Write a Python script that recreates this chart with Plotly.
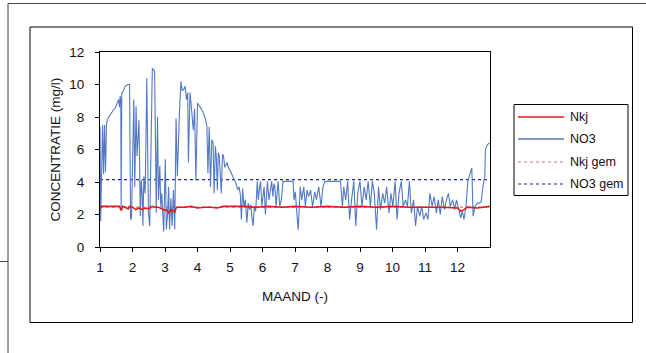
import plotly.graph_objects as go

# ---- data (x in months, values in mg/l) ----
NO3_X = [1.00, 1.02, 1.05, 1.08, 1.11, 1.14, 1.17, 1.20, 1.24, 1.30, 1.34, 1.40, 1.47, 1.52, 1.57, 1.60,
         1.62, 1.64, 1.65, 1.67, 1.72, 1.78, 1.86, 1.91, 1.94, 1.97, 2.00, 2.04, 2.07, 2.11, 2.14, 2.17,
         2.20, 2.24, 2.27, 2.30, 2.32, 2.35, 2.39, 2.44, 2.47, 2.49, 2.53, 2.57, 2.61, 2.65, 2.68, 2.71,
         2.73, 2.77, 2.80, 2.84, 2.87, 2.90, 2.96, 3.01, 3.04, 3.08, 3.11, 3.14, 3.18, 3.22, 3.26, 3.30,
         3.34, 3.38, 3.42, 3.45, 3.49, 3.53, 3.57, 3.62, 3.66, 3.70, 3.72, 3.77, 3.82, 3.87, 3.91, 3.95,
         4.00, 4.06, 4.13, 4.19, 4.25, 4.29, 4.32, 4.36, 4.40, 4.44, 4.48, 4.51, 4.55, 4.58, 4.61, 4.64,
         4.67, 4.70, 4.73, 4.77, 4.80, 4.84, 4.87, 4.91, 4.95, 4.99, 5.03, 5.08, 5.12, 5.16, 5.20, 5.24,
         5.28, 5.32, 5.35, 5.39, 5.43, 5.47, 5.52, 5.56, 5.60, 5.64, 5.67, 5.71, 5.75, 5.79, 5.84, 5.87,
         5.90, 5.94, 5.98, 6.01, 6.05, 6.09, 6.12, 6.15, 6.20, 6.24, 6.28, 6.32, 6.35, 6.38, 6.42, 6.45,
         6.48, 6.53, 6.58, 6.63, 6.78, 6.94, 6.97, 7.01, 7.04, 7.10, 7.16, 7.21, 7.27, 7.32, 7.37, 7.42,
         7.48, 7.54, 7.61, 7.66, 7.73, 7.80, 7.86, 7.92, 8.40, 8.46, 8.50, 8.56, 8.62, 8.68, 8.74, 8.81,
         8.87, 8.93, 9.00, 9.06, 9.13, 9.19, 9.25, 9.32, 9.38, 9.44, 9.51, 9.57, 9.63, 9.70, 9.76, 9.82,
         9.89, 9.95, 10.01, 10.08, 10.14, 10.20, 10.27, 10.33, 10.40, 10.46, 10.52, 10.58, 10.65, 10.71,
         10.77, 10.84, 10.90, 10.96, 11.03, 11.09, 11.15, 11.22, 11.28, 11.35, 11.41, 11.47, 11.53, 11.60,
         11.66, 11.72, 11.78, 11.85, 11.91, 11.97, 12.04, 12.10, 12.15, 12.20, 12.26, 12.32, 12.39, 12.44,
         12.48, 12.54, 12.61, 12.67, 12.73, 12.78, 12.84, 12.86, 12.92, 12.99]
NO3_Y = [7.4, 1.6, 4.6, 7.5, 4.5, 7.5, 4.6, 7.6, 7.9, 8.1, 8.2, 8.4, 8.55, 8.8, 9.07, 8.6,
         9.3, 9.0, 2.3, 9.5, 9.6, 9.9, 10.0, 10.0, 1.7, 1.8, 4.5, 9.07, 3.7, 8.66, 5.6, 7.0,
         7.8, 1.9, 4.1, 3.2, 1.3, 4.35, 3.3, 10.4, 4.0, 2.1, 1.3, 5.4, 11.0, 10.9, 10.8, 6.0,
         2.1, 8.0, 2.9, 5.0, 2.5, 3.3, 0.95, 5.4, 1.1, 2.0, 3.7, 1.1, 3.0, 1.3, 3.5, 1.1,
         7.9, 4.35, 7.2, 8.5, 10.2, 9.6, 9.7, 9.9, 9.07, 9.5, 5.2, 9.5, 8.4, 7.2, 8.5, 4.1,
         8.86, 8.7, 8.45, 8.2, 7.84, 7.4, 4.55, 7.4, 3.7, 6.6, 6.4, 3.3, 6.2, 5.5, 3.5, 5.8,
         5.6, 4.5, 3.3, 5.7, 5.6, 4.9, 5.0, 5.2, 4.9, 4.76, 4.6, 4.35, 4.2, 4.04, 3.8, 3.5,
         3.7, 3.2, 1.7, 3.6, 2.5, 2.9, 1.5, 2.7, 2.3, 2.6, 1.9, 1.3, 2.5, 2.2, 4.04, 2.9,
         3.5, 4.04, 2.5, 3.2, 3.7, 2.0, 3.2, 4.04, 2.9, 3.5, 4.04, 3.1, 3.9, 3.7, 2.5, 3.3,
         4.04, 2.5, 2.9, 4.04, 4.04, 4.04, 2.9, 3.4, 2.5, 1.07, 3.7, 2.9, 3.7, 2.5, 3.5, 3.1,
         3.5, 2.5, 3.4, 2.9, 3.7, 2.5, 3.7, 4.04, 4.04, 2.5, 3.7, 2.9, 4.04, 1.7, 2.9, 4.04,
         1.3, 3.3, 4.04, 2.5, 3.7, 2.9, 4.04, 2.5, 4.04, 3.3, 1.07, 3.7, 2.3, 3.3, 2.7, 3.7,
         2.1, 3.3, 2.5, 4.04, 1.7, 3.3, 4.04, 2.5, 2.9, 2.5, 4.04, 2.1, 2.9, 1.3,
         2.5, 1.9, 2.5, 1.7, 2.1, 1.7, 3.3, 2.5, 3.1, 2.1, 2.9, 2.0, 3.1, 2.3,
         2.9, 3.3, 2.5, 2.9, 2.3, 2.9, 2.3, 1.8, 2.2, 1.7, 2.5, 4.04, 4.55, 4.86,
         1.9, 2.5, 2.7, 2.7, 2.8, 3.7, 4.35, 6.0, 6.3, 6.4]

NKJ_X = [1.0, 1.05, 1.2, 1.4, 1.6, 1.65, 1.7, 1.87, 1.9, 2.0, 2.1, 2.2, 2.3, 2.4, 2.5, 2.6, 2.7, 2.8,
         2.9, 3.0, 3.05, 3.1, 3.2, 3.3, 3.35, 3.4, 3.6, 3.8, 4.0, 4.2, 4.4, 4.6, 4.8, 5.0, 5.4, 5.8,
         6.2, 6.6, 7.0, 7.5, 8.0, 8.5, 9.0, 9.5, 10.0, 10.5, 11.0, 11.5, 12.0, 12.1, 12.2, 12.3,
         12.6, 13.0]
NKJ_Y = [2.35, 2.5, 2.5, 2.5, 2.5, 2.25, 2.5, 2.35, 2.5, 2.45, 2.3, 2.4, 2.3, 2.4, 2.35, 2.5, 2.45, 2.45,
         2.35, 2.25, 2.3, 2.1, 2.3, 2.15, 2.45, 2.45, 2.45, 2.5, 2.4, 2.45, 2.45, 2.4, 2.5, 2.5, 2.5, 2.45,
         2.5, 2.45, 2.5, 2.45, 2.5, 2.45, 2.5, 2.45, 2.5, 2.45, 2.45, 2.45, 2.4, 2.2, 2.3, 2.45,
         2.4, 2.5]

X_RANGE = [1, 13]
NKJ_GEM = 2.45
NO3_GEM = 4.15
X_TICKS = [1, 2, 3, 4, 5, 6, 7, 8, 9, 10, 11, 12]
Y_TICKS = [0, 2, 4, 6, 8, 10, 12]
LEGEND_NAMES = ["Nkj", "NO3", "Nkj gem", "NO3 gem"]

FONT = "Liberation Sans, Arial, sans-serif"
C_NKJ = "#e01a1a"
C_NO3 = "#5479c4"
C_NKJ_GEM = "#e0708a"
C_NO3_GEM = "#1c2a8c"

fig = go.Figure()
fig.add_trace(go.Scatter(x=X_RANGE, y=[NKJ_GEM, NKJ_GEM], mode="lines", name=LEGEND_NAMES[2],
                         line=dict(color=C_NKJ_GEM, width=1.2, dash="dot"), showlegend=False))
fig.add_trace(go.Scatter(x=X_RANGE, y=[NO3_GEM, NO3_GEM], mode="lines", name=LEGEND_NAMES[3],
                         line=dict(color=C_NO3_GEM, width=1.2, dash="dot"), showlegend=False))
fig.add_trace(go.Scatter(x=NO3_X, y=NO3_Y, mode="lines", name=LEGEND_NAMES[1],
                         line=dict(color=C_NO3, width=1.1), showlegend=False))
fig.add_trace(go.Scatter(x=NKJ_X, y=NKJ_Y, mode="lines", name=LEGEND_NAMES[0],
                         line=dict(color=C_NKJ, width=1.6), showlegend=False))

# plot area: x 100..490 px, y 52..247 px
W, H = 646, 353
L, R, T, B = 100, 156, 52, 106
PW, PH = W - L - R, H - T - B


def px(x):
    return (x - L) / PW


def py(y):
    return (H - B - y) / PH


shapes = []
line_dark = dict(color="#000000", width=1)
# outer chart frame
shapes.append(dict(type="rect", xref="paper", yref="paper", x0=px(30), x1=px(632.5), y0=py(322.5), y1=py(27),
                   line=line_dark, layer="below"))
# page border lines
shapes.append(dict(type="line", xref="paper", yref="paper", x0=px(8), x1=px(646), y0=py(3.5), y1=py(3.5),
                   line=dict(color="#444444", width=1)))
shapes.append(dict(type="line", xref="paper", yref="paper", x0=px(8), x1=px(8), y0=py(3.5), y1=py(353),
                   line=dict(color="#444444", width=1)))
shapes.append(dict(type="line", xref="paper", yref="paper", x0=px(0), x1=px(8), y0=py(261.5), y1=py(261.5),
                   line=dict(color="#444444", width=1)))
# legend box
shapes.append(dict(type="rect", xref="paper", yref="paper", x0=px(514), x1=px(628), y0=py(195.5), y1=py(104.5),
                   line=line_dark))
leg_y = [117, 139, 162, 184]
leg_style = [dict(color=C_NKJ, width=1.5), dict(color=C_NO3, width=1.5),
             dict(color=C_NKJ_GEM, width=1.2, dash="dot"), dict(color=C_NO3_GEM, width=1.2, dash="dot")]
annotations = []
for name, yy, st in zip(LEGEND_NAMES, leg_y, leg_style):
    shapes.append(dict(type="line", xref="paper", yref="paper", x0=px(518), x1=px(564), y0=py(yy), y1=py(yy),
                       line=st))
    annotations.append(dict(text=name, xref="paper", yref="paper", x=px(568), y=py(yy), xanchor="left",
                            yanchor="middle", showarrow=False, font=dict(family=FONT, size=12.5, color="#111")))

annotations.append(dict(text="CONCENTRATIE (mg/l)", xref="paper", yref="paper", x=px(55), y=0.5,
                        xanchor="center", yanchor="middle", textangle=-90, showarrow=False,
                        font=dict(family=FONT, size=13.5, color="#111")))
annotations.append(dict(text="MAAND (-)", xref="paper", yref="paper", x=0.5, y=py(296),
                        xanchor="center", yanchor="middle", showarrow=False,
                        font=dict(family=FONT, size=13.5, color="#111")))

axis_common = dict(showline=True, linecolor="#000", linewidth=1, mirror=True, showgrid=False,
                   zeroline=False, ticks="outside", ticklen=4, tickcolor="#000",
                   tickfont=dict(family=FONT, size=13.5, color="#111"))
fig.update_layout(
    width=W, height=H,
    margin=dict(l=L, r=R, t=T, b=B, pad=0),
    paper_bgcolor="white", plot_bgcolor="white",
    showlegend=False,
    xaxis=dict(range=X_RANGE, tickvals=X_TICKS, ticklabelstandoff=4, **axis_common),
    yaxis=dict(range=[0, 12], tickvals=Y_TICKS, ticklabelstandoff=8, **axis_common),
    shapes=shapes, annotations=annotations,
)
fig.write_html("out.html", config={"displayModeBar": False},
               post_script="document.body.style.margin='0px';document.body.style.overflow='hidden';")
